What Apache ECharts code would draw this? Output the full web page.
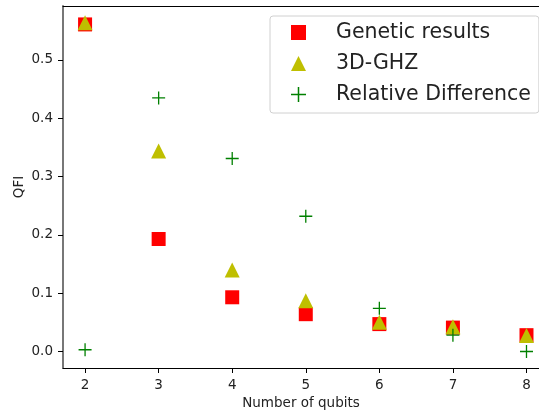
<!DOCTYPE html>
<html>
<head>
  <meta charset="utf-8">
  <script src="https://cdn.jsdelivr.net/npm/echarts@6/dist/echarts.min.js"></script>
  <style>
    html, body { margin: 0; padding: 0; background: #fff; }
    #main { width: 539px; height: 412px; }
  </style>
</head>
<body>
  <div id="main"></div>
  <script type="text/javascript">
    // values
    const qubits = [2, 3, 4, 5, 6, 7, 8];
    const genetic = [0.561, 0.193, 0.093, 0.064, 0.047, 0.041, 0.028];
    const ghz3d = [0.564, 0.344, 0.140, 0.087, 0.050, 0.0425, 0.0275];
    const relDiff = [0.003, 0.435, 0.331, 0.232, 0.074, 0.028, 0.0];

    const PLUS = 'path://M4.5,0H5.5V4.5H10V5.5H5.5V10H4.5V5.5H0V4.5H4.5Z';
    const font = 'DejaVu Sans';
    const txt = '#222';

    function pairs(ys) {
      return qubits.map((x, i) => [x, ys[i]]);
    }

    const chart = echarts.init(document.getElementById('main'));
    const option = {
      animation: false,
      textStyle: { fontFamily: font },
      grid: { left: 63, right: 0, top: 6, bottom: 44, containLabel: false, outerBoundsMode: 'none' },
      legend: {
        orient: 'vertical',
        left: 270, top: 16,
        padding: [6, 8, 8, 21],
        itemGap: 10,
        itemWidth: 15, itemHeight: 15,
        backgroundColor: '#fff',
        borderColor: '#d0d0d0', borderWidth: 1, borderRadius: 3,
        textStyle: { fontSize: 20.5, color: txt, fontFamily: font, padding: [0, 0, 0, 25] },
        data: [
          { name: 'Genetic results', icon: 'rect' },
          { name: '3D-GHZ', icon: 'triangle' },
          { name: 'Relative Difference', icon: PLUS }
        ]
      },
      xAxis: [
        {
          type: 'value',
          min: 1.7, max: 8.17,
          name: 'Number of qubits',
          nameLocation: 'middle', nameGap: 26,
          nameTextStyle: { fontSize: 13.5, color: txt, fontFamily: font },
          axisLine: { onZero: false, lineStyle: { color: '#000', width: 1 } },
          axisTick: { length: 5, lineStyle: { color: '#000' } },
          axisLabel: { fontSize: 13.5, color: txt, margin: 10, showMinLabel: false, showMaxLabel: false },
          splitLine: { show: false }
        },
        {
          // top spine only
          type: 'value', position: 'top',
          min: 1.7, max: 8.17,
          axisLine: { onZero: false, lineStyle: { color: '#000', width: 1 } },
          axisTick: { show: false },
          axisLabel: { show: false },
          splitLine: { show: false }
        }
      ],
      yAxis: {
        type: 'value',
        min: -0.0283, max: 0.5926,
        name: 'QFI',
        nameLocation: 'middle', nameGap: 37, nameMoveOverlap: false,
        nameTextStyle: { fontSize: 13.5, color: txt, fontFamily: font },
        axisLine: { onZero: false, lineStyle: { color: '#777', width: 2 } },
        axisTick: { length: 5, lineStyle: { color: '#000' } },
        axisLabel: {
          fontSize: 13.5, color: txt, margin: 10,
          showMinLabel: false, showMaxLabel: false,
          formatter: v => v.toFixed(1)
        },
        splitLine: { show: false }
      },
      series: [
        {
          name: 'Genetic results', type: 'scatter',
          symbol: 'rect', symbolSize: 14,
          itemStyle: { color: '#ff0000', opacity: 1 },
          data: pairs(genetic)
        },
        {
          name: '3D-GHZ', type: 'scatter',
          symbol: 'triangle', symbolSize: 15,
          itemStyle: { color: '#bfbf00', opacity: 1 },
          data: pairs(ghz3d)
        },
        {
          name: 'Relative Difference', type: 'scatter',
          symbol: PLUS, symbolSize: 13,
          itemStyle: { color: '#008000', opacity: 1 },
          data: pairs(relDiff)
        }
      ]
    };
    chart.setOption(option);
  </script>
</body>
</html>
